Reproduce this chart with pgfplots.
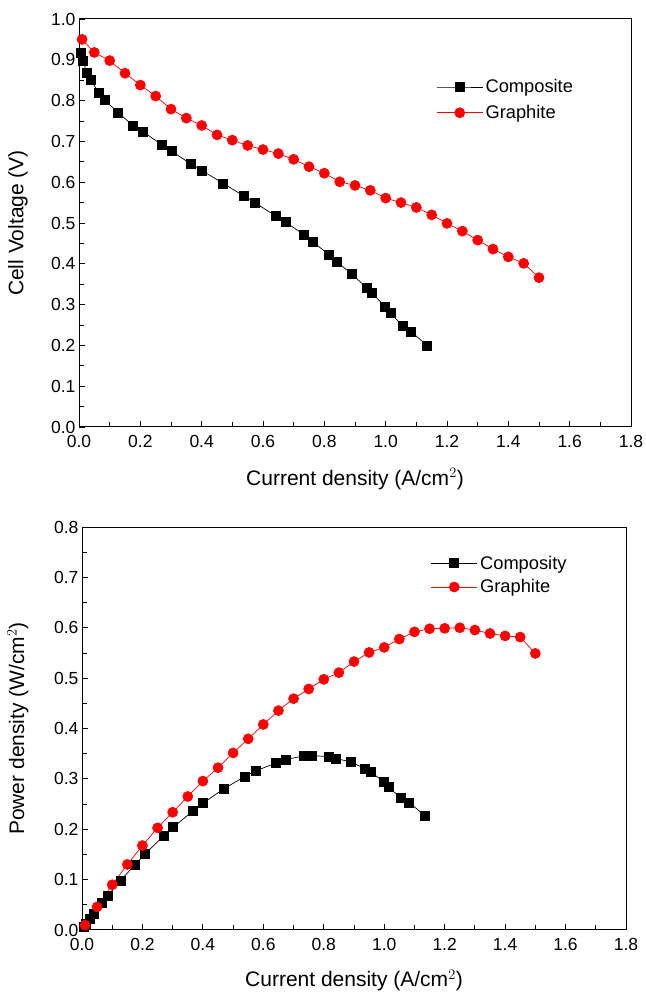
\documentclass[border=0pt]{standalone}
\usepackage{fontspec}
\setmainfont{Liberation Sans}
\usepackage{pgfplots}
\pgfplotsset{compat=1.18}
\definecolor{gred}{RGB}{255,0,0}
\pgfplotsset{
  myaxis/.style={
    scale only axis,
    xmin=0, xmax=1.8,
    xtick distance=0.2, minor x tick num=1,
    ytick distance=0.1, minor y tick num=1,
    tick align=inside, xtick pos=bottom, ytick pos=left,
    major tick length=6pt, minor tick length=5pt,
    every tick/.style={black, line width=0.8pt},
    axis line style={line width=1pt},
    tick label style={font=\fontsize{17.5}{20}\selectfont},
    xticklabel style={yshift=-5pt},
    label style={font=\fontsize{21}{24}\selectfont},
    /pgf/number format/.cd, fixed, fixed zerofill, precision=1, assume math mode=true,
  },
  compo/.style={black, line width=0.7pt, mark=square*, mark size=4.5pt, mark options={solid}},
  graph/.style={gred, line width=0.7pt, mark=*, mark size=5pt, mark options={solid}},
  legend image code/.code={\draw[#1, mark repeat=2, mark phase=2] plot coordinates {(0pt,0pt) (23pt,0pt) (46pt,0pt)};},
}
\begin{document}
\begin{tikzpicture}[x=1pt,y=1pt]
\path[use as bounding box] (0,0) rectangle (645,992);
% top
\begin{axis}[myaxis, at={(79pt,565pt)}, anchor=south west, width=552pt, height=408pt,
  ymin=0, ymax=1.0,
  xlabel={Current density (A/cm$^{2}$)}, ylabel={Cell Voltage (V)},
  xlabel style={at={(axis description cs:0.5,-0.127)}, anchor=center},
  ylabel style={at={(axis description cs:-0.1105,0.5)}, anchor=center},
  legend style={draw=none, fill=none, at={(rel axis cs:0.647,0.858)}, anchor=north west,
    font=\fontsize{18.3}{22}\selectfont, inner sep=0pt, row sep=6pt,
    nodes={inner sep=2.5pt}, cells={anchor=west}},
]
\addplot[compo] coordinates {(0.006,0.916)(0.014,0.897)(0.025,0.867)(0.038,0.850)(0.066,0.818)(0.084,0.801)(0.127,0.771)(0.176,0.739)(0.208,0.724)(0.270,0.692)(0.302,0.676)(0.366,0.644)(0.400,0.629)(0.470,0.597)(0.538,0.566)(0.574,0.550)(0.641,0.517)(0.674,0.502)(0.734,0.471)(0.762,0.454)(0.816,0.422)(0.841,0.405)(0.889,0.375)(0.937,0.342)(0.956,0.328)(0.998,0.295)(1.016,0.279)(1.055,0.248)(1.082,0.234)(1.135,0.200)};
\addlegendentry{Composite}
\addplot[graph] coordinates {(0.01,0.950)(0.05,0.918)(0.10,0.898)(0.15,0.867)(0.20,0.838)(0.25,0.811)(0.30,0.779)(0.35,0.757)(0.40,0.739)(0.45,0.716)(0.50,0.703)(0.55,0.690)(0.60,0.680)(0.65,0.670)(0.70,0.656)(0.75,0.638)(0.80,0.622)(0.85,0.601)(0.90,0.592)(0.95,0.580)(1.00,0.561)(1.05,0.550)(1.10,0.538)(1.15,0.520)(1.20,0.499)(1.25,0.480)(1.30,0.458)(1.35,0.436)(1.40,0.417)(1.45,0.401)(1.50,0.366)};
\addlegendentry{Graphite}
\end{axis}
% bottom
\begin{axis}[myaxis, at={(82pt,62pt)}, anchor=south west, width=544pt, height=403pt,
  ymin=0, ymax=0.8,
  xlabel={Current density (A/cm$^{2}$)}, ylabel={Power density (W/cm$^{2}$)},
  xlabel style={at={(axis description cs:0.5,-0.125)}, anchor=center},
  ylabel style={at={(axis description cs:-0.118,0.5)}, anchor=center},
  legend style={draw=none, fill=none, at={(rel axis cs:0.641,0.935)}, anchor=north west,
    font=\fontsize{18.3}{22}\selectfont, inner sep=0pt, row sep=4pt,
    nodes={inner sep=2.5pt}, cells={anchor=west}},
]
\addplot[compo] coordinates {(0.006,0.0055)(0.014,0.0126)(0.025,0.0217)(0.038,0.0323)(0.066,0.0540)(0.084,0.0673)(0.127,0.0979)(0.176,0.1301)(0.208,0.1506)(0.270,0.1868)(0.302,0.2042)(0.366,0.2357)(0.400,0.2516)(0.470,0.2806)(0.538,0.3045)(0.574,0.3157)(0.641,0.3314)(0.674,0.3383)(0.734,0.3457)(0.762,0.3459)(0.816,0.3444)(0.841,0.3406)(0.889,0.3334)(0.937,0.3205)(0.956,0.3136)(0.998,0.2944)(1.016,0.2835)(1.055,0.2616)(1.082,0.2532)(1.135,0.2270)};
\addlegendentry{Composity}
\addplot[graph] coordinates {(0.01,0.0095)(0.05,0.0459)(0.10,0.0898)(0.15,0.1301)(0.20,0.1676)(0.25,0.2028)(0.30,0.2337)(0.35,0.2650)(0.40,0.2956)(0.45,0.3222)(0.50,0.3515)(0.55,0.3795)(0.60,0.4080)(0.65,0.4355)(0.70,0.4592)(0.75,0.4785)(0.80,0.4976)(0.85,0.5109)(0.90,0.5328)(0.95,0.5510)(1.00,0.5610)(1.05,0.5775)(1.10,0.5918)(1.15,0.5980)(1.20,0.5988)(1.25,0.6000)(1.30,0.5954)(1.35,0.5886)(1.40,0.5838)(1.45,0.5815)(1.50,0.5490)};
\addlegendentry{Graphite}
\end{axis}
\end{tikzpicture}
\end{document}
